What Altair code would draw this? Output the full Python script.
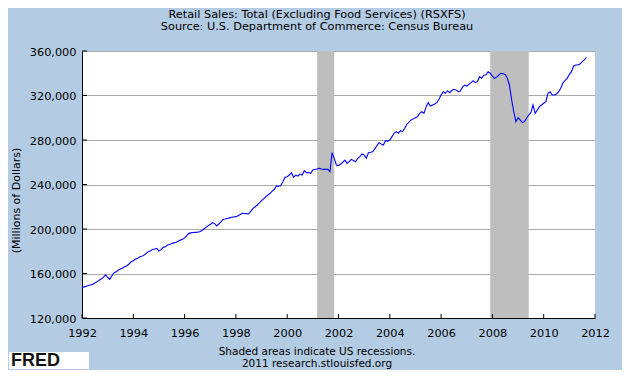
import altair as alt
import pandas as pd

# Monthly retail sales (millions of dollars), Jan 1992 - Sep 2011
s1992 = [147600, 148000, 148500, 149300, 149700, 150200, 151500, 152500, 154000, 155000, 156500, 158700]
s1993 = [156500, 154800, 158000, 160700, 161500, 163100, 164000, 165000, 166000, 167000, 168500, 170500]
s1994 = [171500, 173000, 173600, 175000, 175500, 176500, 178000, 179600, 180500, 181500, 182000, 182600]
s1995 = [180200, 181500, 183500, 184000, 185600, 186000, 187000, 187500, 188000, 189000, 190000, 190700]
s1996 = [192000, 194000, 196100, 196500, 196800, 197000, 197200, 197600, 198500, 200000, 201500, 203000]
s1997 = [204000, 205700, 205000, 202700, 204500, 206500, 208700, 209000, 209500, 210000, 210500, 210800]
s1998 = [211100, 212000, 213000, 214100, 214000, 213800, 213500, 216000, 218600, 220000, 221600, 223500]
s1999 = [225500, 227000, 229100, 230500, 232100, 234000, 235700, 238700, 238400, 239000, 242500, 246500]
s2000 = [247000, 248500, 250600, 246500, 248500, 247600, 249400, 248600, 252400, 250600, 250700, 250000]
s2001 = [253000, 253500, 254000, 254600, 254000, 253600, 253600, 253600, 251500, 268600, 263500, 257500]
s2002 = [257000, 258400, 260000, 262000, 259000, 260500, 262600, 261500, 260500, 263500, 265000, 267400]
s2003 = [266500, 263500, 268600, 269000, 269500, 272000, 275000, 277600, 276500, 275500, 279400, 279000]
s2004 = [280000, 283000, 286000, 287500, 286000, 288400, 287500, 290500, 294400, 296000, 298000, 299000]
s2005 = [300000, 301000, 304000, 305500, 304000, 310000, 313600, 310600, 311500, 312400, 313600, 316600]
s2006 = [320500, 323400, 322000, 324300, 322500, 324500, 325600, 325000, 323400, 324000, 327500, 329400]
s2007 = [328500, 330000, 331500, 333300, 331500, 332500, 336900, 335500, 338400, 338400, 341400, 340000]
s2008 = [337500, 335400, 336500, 338400, 340000, 339500, 339000, 335500, 329000, 316000, 305400, 296500]
s2009 = [300000, 298000, 295600, 296500, 299500, 302500, 304600, 311500, 304000, 307000, 310000, 311500]
s2010 = [313000, 314400, 322000, 323400, 320500, 320500, 321400, 323500, 326500, 331500, 333500, 335400]
s2011 = [339000, 341400, 346500, 347400, 347400, 348300, 350400, 352000, 354300]

yearly = [s1992, s1993, s1994, s1995, s1996, s1997, s1998, s1999, s2000, s2001,
          s2002, s2003, s2004, s2005, s2006, s2007, s2008, s2009, s2010, s2011]

rec_start = [2001 + 2 / 12, 2007 + 11 / 12]
rec_end = [2001 + 10 / 12, 2009 + 5 / 12]

x_ticks = [1992, 1994, 1996, 1998, 2000, 2002, 2004, 2006, 2008, 2010, 2012]
y_ticks = [120000, 160000, 200000, 240000, 280000, 320000, 360000]

title_lines = ["Retail Sales: Total (Excluding Food Services) (RSXFS)",
               "Source: U.S. Department of Commerce: Census Bureau"]
note_lines = ["Shaded areas indicate US recessions.", "2011 research.stlouisfed.org"]
y_title = "(Millions of Dollars)"

values = []
dates = []
for yi, arr in enumerate(yearly):
    for mi, v in enumerate(arr):
        dates.append(1992 + yi + mi / 12)
        values.append(v)

df = pd.DataFrame({"date": dates, "value": values})
rec_df = pd.DataFrame({"start": rec_start, "end": rec_end})
xt_df = pd.DataFrame({"v": x_ticks})
yt_df = pd.DataFrame({"v": y_ticks})

FONT = "DejaVu Sans"
FS = 11.3

x_scale = alt.Scale(domain=[1992, 2012], nice=False, zero=False)
y_scale = alt.Scale(domain=[120000, 360000], nice=False, zero=False)

x_axis = alt.Axis(values=x_ticks, format="d", title=None, grid=False, tickSize=0,
                  labelFont=FONT, labelFontSize=FS, labelColor="black",
                  labelPadding=9, labelFlush=False, labelOverlap=False,
                  domainColor="black", domainWidth=1, zindex=1)
y_axis = alt.Axis(values=y_ticks, format=",d", title=y_title, grid=True,
                  gridColor="#AAAAAA", gridWidth=1, tickSize=0,
                  labelFont=FONT, labelFontSize=FS, labelColor="black",
                  labelPadding=6, labelOffset=1, labelFlush=False, labelOverlap=False,
                  domainColor="black", domainWidth=1,
                  titleFont=FONT, titleFontSize=11, titleFontWeight="normal",
                  titleColor="black", titleX=-66, titleY=149,
                  titleAlign="center", titleBaseline="middle")

bands = alt.Chart(rec_df).mark_rect(color="#BEBEBE").encode(
    x=alt.X("start:Q", scale=x_scale, axis=x_axis),
    x2="end:Q",
)

line = alt.Chart(df).mark_line(color="#0000FF", strokeWidth=1.1).encode(
    x=alt.X("date:Q", scale=x_scale, axis=x_axis),
    y=alt.Y("value:Q", scale=y_scale, axis=y_axis),
)

yticks = alt.Chart(yt_df).mark_rule(color="black", strokeWidth=1).encode(
    y=alt.Y("v:Q", scale=y_scale, axis=y_axis),
    x=alt.value(0), x2=alt.value(5),
)
xticks = alt.Chart(xt_df).mark_rule(color="black", strokeWidth=1).encode(
    x=alt.X("v:Q", scale=x_scale, axis=x_axis),
    y=alt.value(263), y2=alt.value(267),
)


def text_layer(txt, x, y, **kw):
    return alt.Chart(pd.DataFrame({"t": [txt]})).mark_text(**kw).encode(
        text="t:N", x=alt.value(x), y=alt.value(y))


common = dict(font=FONT, fontSize=FS, color="black", align="center", baseline="middle")
notes = dict(font=FONT, fontSize=10.5, color="black", align="center", baseline="middle")
t1 = text_layer(title_lines[0], 235, -36, **common)
t2 = text_layer(title_lines[1], 235, -24, **common)
n1 = text_layer(note_lines[0], 235, 301, **notes)
n2 = text_layer(note_lines[1], 235, 313, **notes)

logo_box = alt.Chart(pd.DataFrame({"t": ["FRED"]})).mark_rect(color="white").encode(
    x=alt.value(-73), x2=alt.value(7), y=alt.value(301), y2=alt.value(318))
logo = text_layer("FRED", -71, 315, font="Liberation Sans", fontSize=18,
                  fontWeight="bold", color="#111111", align="left", baseline="alphabetic")

chart = alt.layer(bands, line, yticks, xticks, t1, t2, n1, n2, logo_box, logo).properties(
    width=513, height=267,
    background="#B3CCE4",
    padding={"left": 74, "top": 43, "right": 27, "bottom": 52},
    autosize=alt.AutoSizeParams(type="none"),
).configure_view(fill="white", stroke=None)

chart.save("out.html", embed_options={"renderer": "svg", "actions": False})
